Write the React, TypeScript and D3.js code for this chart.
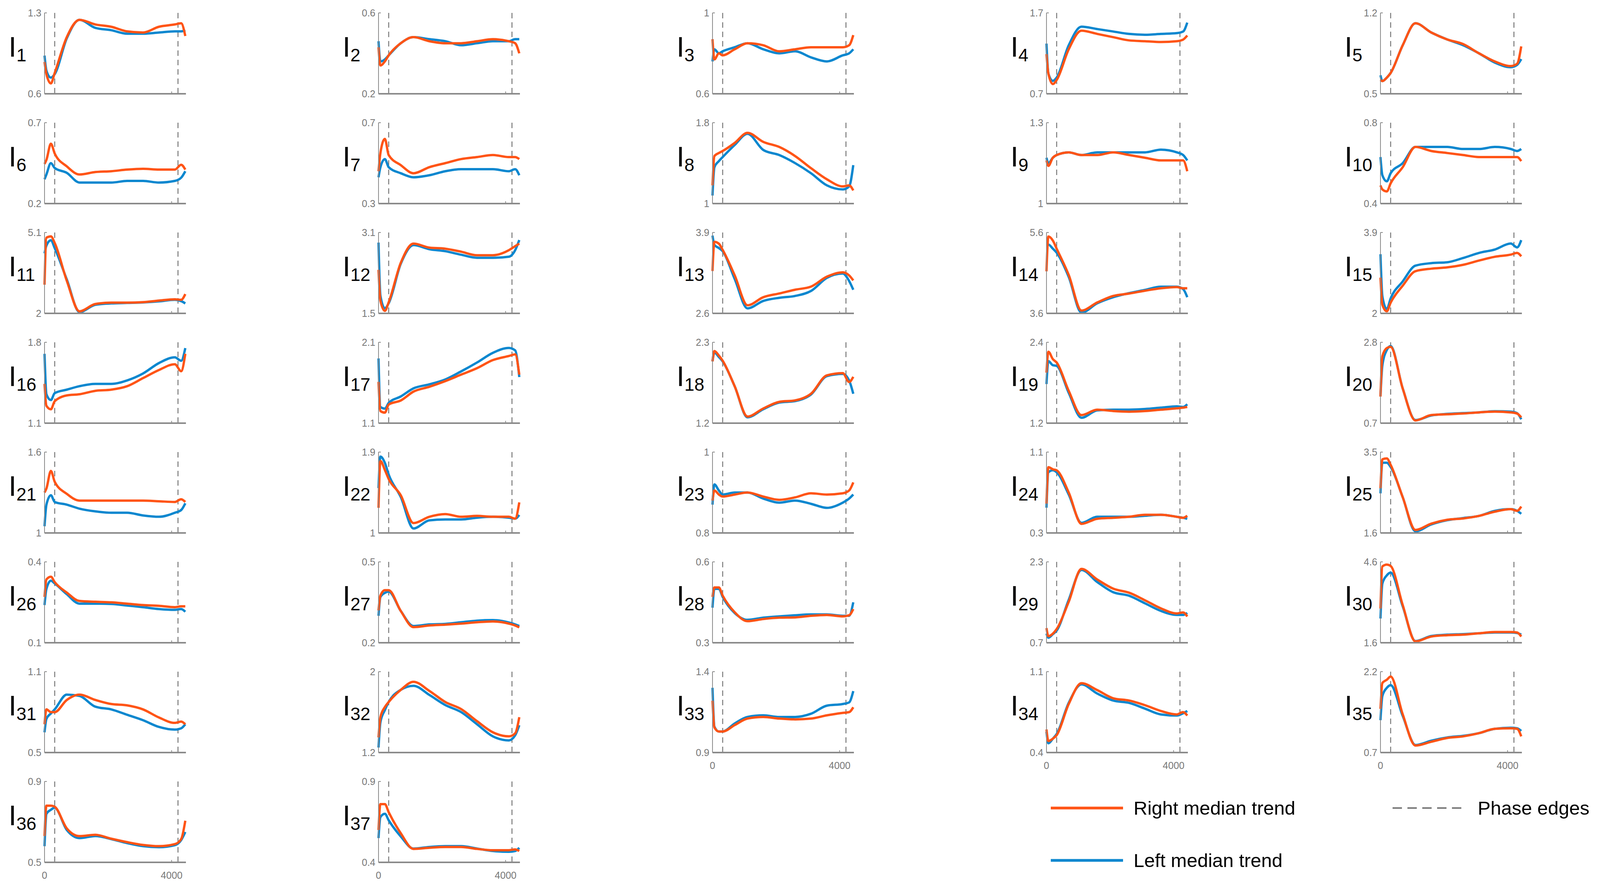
import * as d3 from "d3";

const W = 4264;
const H = 2265;

// sample positions along the trial (same for every panel)
const xs = [0, 60, 200, 320, 700, 1100, 1600, 2100, 2600, 3100, 3600, 4100, 4300, 4430];
const phaseEdges = [320, 4200];
const xTicks = [0, 4000];

const yRanges: [number, number][] = [
  [0.6, 1.3], [0.2, 0.6], [0.6, 1], [0.7, 1.7], [0.5, 1.2],
  [0.2, 0.7], [0.3, 0.7], [1, 1.8], [1, 1.3], [0.4, 0.8],
  [2, 5.1], [1.5, 3.1], [2.6, 3.9], [3.6, 5.6], [2, 3.9],
  [1.1, 1.8], [1.1, 2.1], [1.2, 2.3], [1.2, 2.4], [0.7, 2.8],
  [1, 1.6], [1, 1.9], [0.8, 1], [0.3, 1.1], [1.6, 3.5],
  [0.1, 0.4], [0.2, 0.5], [0.3, 0.6], [0.7, 2.3], [1.6, 4.6],
  [0.5, 1.1], [1.2, 2], [0.9, 1.4], [0.4, 1.1], [0.7, 2.2],
  [0.5, 0.9], [0.4, 0.9],
];

const rightTrend: number[][] = [
  [0.875, 0.77, 0.69, 0.78, 1.09, 1.24, 1.2, 1.18, 1.14, 1.13, 1.18, 1.2, 1.21, 1.1],
  [0.43, 0.34, 0.36, 0.39, 0.45, 0.48, 0.46, 0.45, 0.45, 0.46, 0.47, 0.46, 0.45, 0.4],
  [0.87, 0.77, 0.8, 0.79, 0.82, 0.85, 0.84, 0.81, 0.82, 0.83, 0.83, 0.83, 0.84, 0.89],
  [1.19, 0.95, 0.82, 0.87, 1.25, 1.48, 1.44, 1.4, 1.36, 1.35, 1.34, 1.35, 1.37, 1.42],
  [0.62, 0.61, 0.64, 0.68, 0.92, 1.11, 1.03, 0.97, 0.93, 0.85, 0.78, 0.74, 0.76, 0.91],
  [0.445, 0.47, 0.57, 0.51, 0.43, 0.38, 0.395, 0.4, 0.41, 0.415, 0.41, 0.41, 0.44, 0.41],
  [0.46, 0.55, 0.62, 0.54, 0.49, 0.45, 0.48, 0.5, 0.52, 0.53, 0.54, 0.53, 0.53, 0.52],
  [1.18, 1.47, 1.5, 1.52, 1.6, 1.7, 1.61, 1.56, 1.47, 1.35, 1.24, 1.17, 1.18, 1.13],
  [1.16, 1.14, 1.17, 1.18, 1.19, 1.18, 1.18, 1.19, 1.18, 1.17, 1.16, 1.16, 1.16, 1.12],
  [0.49, 0.47, 0.46, 0.5, 0.58, 0.68, 0.66, 0.65, 0.64, 0.63, 0.63, 0.63, 0.63, 0.61],
  [3.1, 4.9, 4.95, 4.7, 3.25, 2.08, 2.36, 2.41, 2.41, 2.43, 2.49, 2.54, 2.52, 2.74],
  [2.36, 1.75, 1.55, 1.72, 2.5, 2.88, 2.8, 2.78, 2.72, 2.65, 2.65, 2.75, 2.83, 2.88],
  [3.28, 3.75, 3.72, 3.62, 3.21, 2.73, 2.86, 2.92, 2.98, 3.03, 3.19, 3.26, 3.21, 3.13],
  [4.64, 5.5, 5.4, 5.2, 4.55, 3.67, 3.87, 4.03, 4.09, 4.16, 4.22, 4.25, 4.22, 4.22],
  [2.84, 2.2, 2.05, 2.25, 2.65, 2.99, 3.05, 3.08, 3.14, 3.24, 3.33, 3.38, 3.42, 3.34],
  [1.44, 1.25, 1.22, 1.29, 1.34, 1.35, 1.38, 1.39, 1.42, 1.49, 1.56, 1.61, 1.55, 1.7],
  [1.61, 1.25, 1.23, 1.33, 1.38, 1.49, 1.55, 1.62, 1.7, 1.78, 1.88, 1.93, 1.95, 1.7],
  [2.04, 2.18, 2.12, 2.05, 1.7, 1.29, 1.4, 1.49, 1.51, 1.6, 1.85, 1.88, 1.76, 1.83],
  [1.95, 2.26, 2.15, 2.1, 1.68, 1.32, 1.4, 1.38, 1.37, 1.38, 1.4, 1.42, 1.43, 1.44],
  [1.39, 2.44, 2.65, 2.68, 1.6, 0.77, 0.91, 0.93, 0.95, 0.98, 1.0, 0.98, 0.95, 0.85],
  [1.3, 1.33, 1.46, 1.38, 1.29, 1.24, 1.24, 1.24, 1.24, 1.24, 1.235, 1.23, 1.25, 1.23],
  [1.28, 1.8, 1.7, 1.6, 1.42, 1.11, 1.18, 1.21, 1.18, 1.19, 1.18, 1.18, 1.16, 1.34],
  [0.88, 0.905, 0.895, 0.89, 0.895, 0.9, 0.89, 0.882, 0.888, 0.898, 0.895, 0.898, 0.905, 0.925],
  [0.59, 0.95, 0.93, 0.92, 0.7, 0.39, 0.44, 0.45, 0.46, 0.48, 0.48, 0.46, 0.45, 0.47],
  [2.65, 3.33, 3.35, 3.2, 2.44, 1.67, 1.82, 1.91, 1.94, 2.0, 2.1, 2.16, 2.12, 2.22],
  [0.27, 0.335, 0.345, 0.325, 0.286, 0.255, 0.252, 0.25, 0.245, 0.24, 0.237, 0.232, 0.235, 0.235],
  [0.32, 0.375, 0.395, 0.395, 0.318, 0.258, 0.264, 0.267, 0.271, 0.276, 0.279, 0.271, 0.264, 0.257],
  [0.47, 0.505, 0.505, 0.475, 0.413, 0.38, 0.388, 0.393, 0.394, 0.4, 0.403, 0.398, 0.402, 0.425],
  [0.99, 0.83, 0.88, 0.97, 1.51, 2.16, 1.95, 1.77, 1.69, 1.54, 1.38, 1.28, 1.3, 1.22],
  [2.87, 4.43, 4.5, 4.45, 3.0, 1.65, 1.83, 1.88, 1.9, 1.95, 2.0, 2.0, 1.98, 1.83],
  [0.71, 0.82, 0.8, 0.8, 0.89, 0.93, 0.89, 0.86, 0.85, 0.82, 0.76, 0.72, 0.73, 0.71],
  [1.35, 1.55, 1.65, 1.7, 1.82, 1.9, 1.81, 1.7, 1.63, 1.51, 1.4, 1.36, 1.39, 1.55],
  [1.22, 1.055, 1.03, 1.03, 1.07, 1.11, 1.12, 1.11, 1.105, 1.11, 1.13, 1.145, 1.15, 1.18],
  [0.6, 0.5, 0.52, 0.55, 0.82, 1.0, 0.94, 0.87, 0.85, 0.81, 0.76, 0.73, 0.75, 0.72],
  [1.51, 1.99, 2.05, 2.11, 1.41, 0.83, 0.9, 0.97, 1.0, 1.06, 1.14, 1.15, 1.14, 1.0],
  [0.63, 0.78, 0.78, 0.775, 0.668, 0.63, 0.636, 0.617, 0.6, 0.586, 0.58, 0.59, 0.615, 0.706],
  [0.6, 0.76, 0.76, 0.71, 0.58, 0.483, 0.49, 0.495, 0.495, 0.483, 0.475, 0.475, 0.48, 0.47],
];

const leftTrend: number[][] = [
  [0.93, 0.8, 0.74, 0.77, 1.08, 1.24, 1.17, 1.15, 1.12, 1.12, 1.13, 1.14, 1.14, 1.15],
  [0.46, 0.36, 0.37, 0.39, 0.45, 0.48, 0.47, 0.46, 0.44, 0.45, 0.46, 0.46, 0.47, 0.47],
  [0.76, 0.82, 0.8, 0.81, 0.83, 0.85, 0.82, 0.8, 0.81, 0.78, 0.76, 0.79, 0.8, 0.82],
  [1.32, 0.95, 0.86, 0.9, 1.3, 1.53, 1.5, 1.47, 1.44, 1.43, 1.44, 1.45, 1.47, 1.58],
  [0.66, 0.61, 0.64, 0.68, 0.92, 1.11, 1.03, 0.97, 0.92, 0.85, 0.77, 0.73, 0.75, 0.8],
  [0.35, 0.38, 0.45, 0.42, 0.39, 0.33, 0.33, 0.33, 0.34, 0.34, 0.33, 0.34, 0.36, 0.4],
  [0.43, 0.48, 0.52, 0.48, 0.45, 0.43, 0.44, 0.46, 0.47, 0.47, 0.47, 0.46, 0.47, 0.44],
  [1.08, 1.36, 1.42, 1.46, 1.58, 1.69, 1.53, 1.48, 1.4, 1.3, 1.18, 1.14, 1.17, 1.38],
  [1.17, 1.15, 1.17, 1.18, 1.19, 1.18, 1.19, 1.19, 1.19, 1.19, 1.2, 1.19, 1.18, 1.16],
  [0.63, 0.54, 0.51, 0.55, 0.6, 0.68, 0.68, 0.68, 0.67, 0.67, 0.68, 0.67, 0.66, 0.67],
  [4.3, 4.6, 4.8, 4.5, 3.3, 2.05, 2.33, 2.38, 2.4, 2.42, 2.46, 2.52, 2.47, 2.38],
  [2.9, 1.85, 1.6, 1.7, 2.48, 2.85, 2.77, 2.73, 2.66, 2.6, 2.6, 2.62, 2.75, 2.95],
  [3.85, 3.7, 3.65, 3.6, 3.15, 2.68, 2.8, 2.85, 2.88, 2.96, 3.17, 3.24, 3.12, 2.98],
  [5.3, 5.3, 5.2, 5.1, 4.5, 3.62, 3.85, 4.0, 4.1, 4.18, 4.26, 4.26, 4.2, 4.0],
  [3.39, 2.4, 2.1, 2.35, 2.75, 3.12, 3.18, 3.2, 3.3, 3.42, 3.5, 3.64, 3.55, 3.72],
  [1.7, 1.35, 1.3, 1.36, 1.39, 1.42, 1.44, 1.44, 1.47, 1.53, 1.62, 1.67, 1.64, 1.75],
  [1.9, 1.3, 1.28, 1.35, 1.43, 1.53, 1.58, 1.64, 1.74, 1.85, 1.97, 2.03, 2.0, 1.67],
  [2.04, 2.16, 2.1, 2.04, 1.7, 1.28, 1.39, 1.48, 1.5, 1.59, 1.84, 1.87, 1.78, 1.6],
  [1.78, 2.12, 2.06, 2.05, 1.65, 1.28, 1.39, 1.4, 1.4, 1.41, 1.43, 1.45, 1.44, 1.48],
  [1.4, 2.2, 2.6, 2.7, 1.6, 0.78, 0.9, 0.94, 0.96, 0.98, 1.01, 1.0, 0.96, 0.8],
  [1.05, 1.21, 1.28, 1.23, 1.21, 1.18, 1.16, 1.15, 1.15, 1.13, 1.12, 1.15, 1.17, 1.22],
  [1.5, 1.85, 1.78, 1.65, 1.4, 1.05, 1.14, 1.15, 1.15, 1.17, 1.18, 1.17, 1.16, 1.2],
  [0.87, 0.92, 0.905, 0.895, 0.9, 0.9, 0.885, 0.875, 0.88, 0.872, 0.862, 0.875, 0.885, 0.895],
  [0.55, 0.9, 0.92, 0.9, 0.68, 0.4, 0.46, 0.46, 0.46, 0.47, 0.48, 0.46, 0.45, 0.44],
  [2.53, 3.25, 3.25, 3.15, 2.44, 1.64, 1.8, 1.9, 1.95, 2.0, 2.12, 2.16, 2.12, 2.05],
  [0.24, 0.3, 0.33, 0.32, 0.28, 0.245, 0.245, 0.244, 0.238, 0.232, 0.225, 0.222, 0.225, 0.215],
  [0.3, 0.37, 0.385, 0.39, 0.318, 0.262, 0.268, 0.27, 0.276, 0.282, 0.284, 0.275, 0.268, 0.262],
  [0.43, 0.5, 0.5, 0.47, 0.41, 0.385, 0.393, 0.398, 0.402, 0.405, 0.405, 0.4, 0.4, 0.45],
  [0.88, 0.8, 0.87, 0.94, 1.55, 2.14, 1.9, 1.7, 1.63, 1.48, 1.33, 1.25, 1.25, 1.29],
  [2.5, 3.8, 4.1, 4.2, 2.95, 1.66, 1.85, 1.9, 1.92, 1.95, 1.98, 1.98, 1.96, 1.9],
  [0.65, 0.75, 0.79, 0.82, 0.93, 0.92, 0.84, 0.82, 0.78, 0.74, 0.69, 0.67, 0.68, 0.71],
  [1.25, 1.5, 1.62, 1.7, 1.82, 1.86, 1.77, 1.67, 1.6, 1.48, 1.36, 1.32, 1.37, 1.47],
  [1.3, 1.06, 1.03, 1.03, 1.08, 1.12, 1.13, 1.12, 1.12, 1.14, 1.19, 1.2, 1.21, 1.28],
  [0.58, 0.48, 0.52, 0.56, 0.83, 0.99, 0.91, 0.85, 0.83, 0.78, 0.73, 0.72, 0.74, 0.76],
  [1.3, 1.75, 1.9, 1.95, 1.38, 0.84, 0.92, 0.98, 1.01, 1.06, 1.14, 1.16, 1.15, 1.1],
  [0.58, 0.74, 0.76, 0.77, 0.66, 0.62, 0.63, 0.615, 0.595, 0.58, 0.575, 0.585, 0.61, 0.65],
  [0.55, 0.68, 0.7, 0.66, 0.56, 0.485, 0.495, 0.5, 0.5, 0.485, 0.47, 0.465, 0.47, 0.49],
];

// panels that show the 0 / 4000 tick labels
const xLabelled = [32, 33, 34, 35, 36];

const RIGHT = "#ff5416";
const LEFT = "#0b87cf";
const AXIS = "#8a8a8a";

const left0 = 114;
const colStep = 855;
const top0 = 33;
const rowStep = 281;
const pw = 362;
const ph = 207;
const FONT = "'Liberation Sans', Arial, sans-serif";

function Panel({ i }: { i: number }) {
  const col = i % 5;
  const row = Math.floor(i / 5);
  const x0 = left0 + col * colStep;
  const y0 = top0 + row * rowStep;
  const [lo, hi] = yRanges[i];
  const x = d3.scaleLinear().domain([0, 4450]).range([0, pw]);
  const y = d3.scaleLinear().domain([lo, hi]).range([ph, 0]);
  const line = d3
    .line<number>()
    .x((_, k) => x(xs[k]))
    .y((v) => y(v))
    .curve(d3.curveMonotoneX);
  const fmt = (v: number) => String(+v.toFixed(2));
  return (
    <g transform={`translate(${x0},${y0})`}>
      {phaseEdges.map((e) => (
        <line key={e} x1={x(e)} x2={x(e)} y1={0} y2={ph} stroke="#7a7a7a"
          strokeWidth={2.5} strokeDasharray="14,10" />
      ))}
      <path d={line(leftTrend[i]) ?? ""} fill="none" stroke={LEFT} strokeWidth={6} />
      <path d={line(rightTrend[i]) ?? ""} fill="none" stroke={RIGHT} strokeWidth={6} />
      <line x1={0} x2={0} y1={0} y2={ph} stroke={AXIS} strokeWidth={2} />
      <line x1={0} x2={6} y1={0} y2={0} stroke={AXIS} strokeWidth={2} />
      <line x1={0} x2={pw} y1={ph} y2={ph} stroke={AXIS} strokeWidth={4} />
      {xTicks.map((t) => (
        <line key={t} x1={x(t)} x2={x(t)} y1={ph} y2={ph - 6} stroke={AXIS} strokeWidth={2} />
      ))}
      <text x={-8} y={0} dy="0.35em" textAnchor="end" fontSize={25} fill="#777" fontFamily={FONT}>
        {fmt(hi)}
      </text>
      <text x={-8} y={ph} dy="0.35em" textAnchor="end" fontSize={25} fill="#777" fontFamily={FONT}>
        {fmt(lo)}
      </text>
      {xLabelled.includes(i) &&
        xTicks.map((t) => (
          <text key={t} x={x(t)} y={ph + 42} textAnchor="middle" fontSize={25} fill="#777" fontFamily={FONT}>
            {t}
          </text>
        ))}
      <text x={-92} y={112} fontSize={72} fill="#000" fontFamily={FONT}>
        I
        <tspan fontSize={46} dy={12}>{i + 1}</tspan>
      </text>
    </g>
  );
}

export default function App() {
  return (
    <svg width={W} height={H} style={{ position: "absolute", left: 0, top: 0, background: "#fff" }}>
      <rect width={W} height={H} fill="#fff" />
      {yRanges.map((_, i) => (
        <Panel key={i} i={i} />
      ))}
      <g fontFamily={FONT} fontSize={49} fill="#000">
        <line x1={2690} x2={2875} y1={2068} y2={2068} stroke={RIGHT} strokeWidth={7} />
        <text x={2902} y={2085}>Right median trend</text>
        <line x1={2690} x2={2875} y1={2202} y2={2202} stroke={LEFT} strokeWidth={7} />
        <text x={2902} y={2219}>Left median trend</text>
        <line x1={3565} x2={3755} y1={2068} y2={2068} stroke="#7a7a7a" strokeWidth={4}
          strokeDasharray="24,14" />
        <text x={3783} y={2085}>Phase edges</text>
      </g>
    </svg>
  );
}
